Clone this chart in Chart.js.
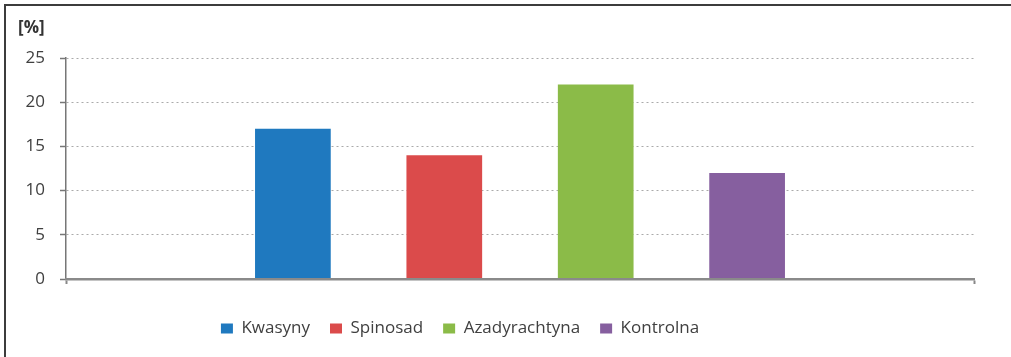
<!DOCTYPE html>
<html>
<head>
<meta charset="utf-8">
<script src="https://cdn.jsdelivr.net/npm/chart.js@4"></script>
<style>
  html, body { margin: 0; padding: 0; background: #fff; }
  #frame {
    position: absolute; left: 4px; top: 4px; width: 1007px; height: 353px;
    border-left: 2px solid #3c3c3c; border-top: 2px solid #3c3c3c;
  }
  #wrap { position: absolute; left: 0; top: 0; width: 1011px; height: 357px; }
</style>
</head>
<body>
<div id="frame"></div>
<div id="wrap"><canvas id="chart" width="1011" height="357"></canvas></div>
<script>
// share of damaged plants per treatment
var treatments = ['Kwasyny', 'Spinosad', 'Azadyrachtyna', 'Kontrolna'];
var percent = [17, 14, 22, 12];
var colors = ['#1f79bf', '#db4b4b', '#8bbb48', '#865f9f'];
var yTicks = { min: 0, max: 25, step: 5 };

var font = 'Open Sans';
var textColor = '#404040';

var datasets = treatments.map(function (name, i) {
    return {
        label: name,
        data: [percent[i]],
        backgroundColor: colors[i],
        borderWidth: 0
    };
});

// pulls the legend row a bit to the left of the centre
var legendShift = {
    id: 'legendShift',
    afterLayout: function (chart) {
        chart.legend.left -= 36;
        chart.legend.right -= 36;
    }
};

new Chart('chart', {
    type: 'bar',
    data: {
        labels: [''],
        datasets: datasets
    },
    plugins: [legendShift],
    options: {
        responsive: false,
        animation: false,
        categoryPercentage: 0.667,
        barPercentage: 0.5,
        layout: { padding: { left: 18, right: 37, top: 0, bottom: 10 } },
        plugins: {
            tooltip: { enabled: false },
            title: {
                display: true,
                text: '[%]',
                align: 'start',
                color: '#333',
                font: { family: font, size: 17, weight: 'bold' },
                padding: { top: 18, bottom: 19.6 }
            },
            legend: {
                display: true,
                position: 'bottom',
                labels: {
                    color: textColor,
                    font: { family: font, size: 17 },
                    boxWidth: 12,
                    boxHeight: 10,
                    padding: 20
                }
            }
        },
        scales: {
            x: {
                offset: true,
                ticks: { display: false },
                grid: {
                    drawOnChartArea: false,
                    drawTicks: true,
                    tickLength: 5,
                    tickColor: '#888',
                    tickWidth: 2
                },
                border: { color: '#8a8a8a', width: 2.5, z: 1 },
                afterFit: function (s) { s.height = 21; }
            },
            y: {
                min: yTicks.min,
                max: yTicks.max,
                ticks: {
                    stepSize: yTicks.step,
                    color: textColor,
                    padding: 15,
                    font: { family: font, size: 17 }
                },
                grid: {
                    color: '#aaa',
                    lineWidth: 1,
                    tickLength: 6,
                    tickColor: '#777',
                    tickWidth: 1.5,
                    tickBorderDash: []
                },
                border: { color: '#777', width: 1.5, dash: [2, 3] },
                afterFit: function (s) { s.width = 48; }
            }
        }
    }
});
</script>
</body>
</html>
